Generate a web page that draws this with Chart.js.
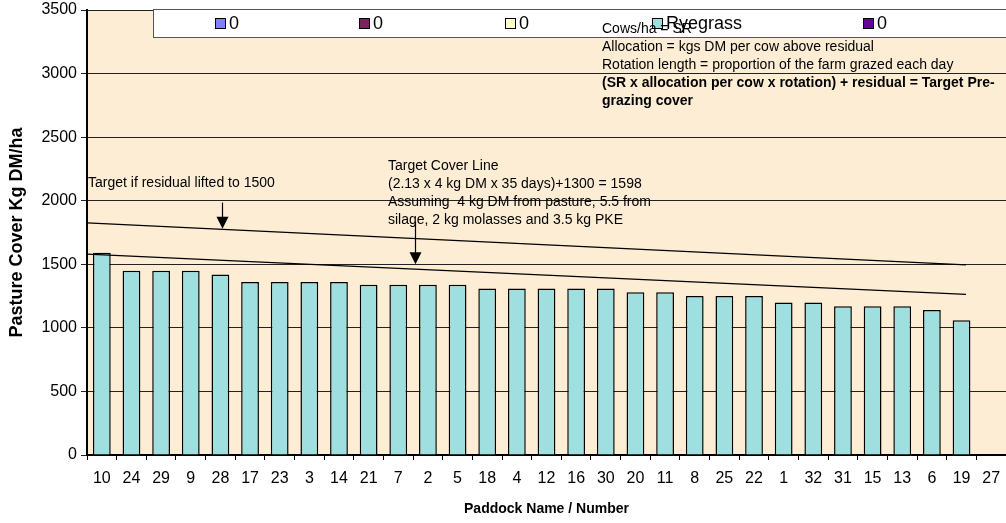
<!DOCTYPE html>
<html><head><meta charset="utf-8">
<script src="https://cdn.jsdelivr.net/npm/chart.js@4.4.0/dist/chart.umd.min.js"></script>
<style>html,body{margin:0;padding:0;background:#fff}#wrap{width:1006px;height:523px}</style>
</head><body><div id="wrap"><canvas id="c" width="1006" height="523"></canvas></div>
<script>
// ---- data ----
const paddocks = ['10','24','29','9','28','17','23','3','14','21','7','2','5','18','4','12','16','30','20','11','8','25','22','1','32','31','15','13','6','19','27'];
const ryegrass = [1590,1450,1450,1450,1420,1360,1360,1360,1360,1340,1340,1340,1340,1310,1310,1310,1310,1310,1280,1280,1250,1250,1250,1200,1200,1170,1170,1170,1140,1060,null];
const legendLabels = ['0','0','0','Ryegrass','0'];
const seriesColors = ['#8080ff','#802060','#ffffcc','#a0dfdf','#660099'];
const lineX = [-0.5, 29.15];
const targetCoverLine = [1580, 1263];
const residualTargetLine = [1826, 1496];
const yTicks = [0,500,1000,1500,2000,2500,3000,3500];
const arrowX = [4.05, 10.56];
const arrowFrom = [1985, 1835];
const arrowTo = [1780, 1500];

const FONT = '"Liberation Sans", Arial, sans-serif';

const barSets = legendLabels.map((lab, i) => ({
  type: 'bar',
  label: lab,
  data: lab === 'Ryegrass' ? ryegrass : [],
  backgroundColor: seriesColors[i],
  borderColor: '#000',
  borderWidth: 1.5,
  grouped: false,
  barPercentage: 0.6,
  categoryPercentage: 1,
  xAxisID: 'x', yAxisID: 'y',
  order: 2
}));

const lineSets = [targetCoverLine, residualTargetLine].map(arr => ({
  type: 'line',
  label: '',
  data: lineX.map((x, i) => ({x: x, y: arr[i]})),
  borderColor: '#000',
  borderWidth: 1.2,
  pointRadius: 0,
  fill: false,
  tension: 0,
  xAxisID: 'x2', yAxisID: 'y',
  order: 0
}));

const bgPlugin = {
  id: 'bg',
  beforeDraw(chart) {
    const {ctx, chartArea: a} = chart;
    ctx.save();
    ctx.fillStyle = '#fff';
    ctx.fillRect(0, 0, chart.width, chart.height);
    ctx.fillStyle = '#fcedd4';
    ctx.fillRect(a.left, a.top, a.right - a.left, a.bottom - a.top);
    ctx.restore();
  }
};

const annoPlugin = {
  id: 'anno',
  afterDraw(chart) {
    const {ctx} = chart;
    const xs = chart.scales.x2, ys = chart.scales.y;
    ctx.save();
    // arrows
    ctx.strokeStyle = '#000'; ctx.fillStyle = '#000'; ctx.lineWidth = 1.2;
    arrowX.forEach((v, i) => {
      const px = Math.round(xs.getPixelForValue(v)) + 0.5;
      const y1 = ys.getPixelForValue(arrowFrom[i]);
      const y2 = ys.getPixelForValue(arrowTo[i]);
      ctx.beginPath(); ctx.moveTo(px, y1); ctx.lineTo(px, y2 - 10); ctx.stroke();
      ctx.beginPath(); ctx.moveTo(px - 6, y2 - 12); ctx.lineTo(px + 6, y2 - 12); ctx.lineTo(px, y2); ctx.closePath(); ctx.fill();
    });
    // texts
    ctx.textAlign = 'left'; ctx.textBaseline = 'middle'; ctx.fillStyle = '#000';
    ctx.font = '14px ' + FONT;
    ctx.fillText('Target if residual lifted to 1500', 88, 183);
    const tc = ['Target Cover Line', '(2.13 x 4 kg DM x 35 days)+1300 = 1598', 'Assuming  4 kg DM from pasture, 5.5 from', 'silage, 2 kg molasses and 3.5 kg PKE'];
    tc.forEach((t, i) => ctx.fillText(t, 388, 166 + i * 18.1));
    // legend box
    ctx.fillStyle = '#fff';
    ctx.fillRect(153, 9, 860, 28);
    ctx.strokeStyle = '#555'; ctx.lineWidth = 1;
    ctx.strokeRect(153.5, 9.5, 860, 28);
    const lx = [215, 359, 505, 652, 863];
    ctx.font = '18px ' + FONT;
    legendLabels.forEach((lab, i) => {
      ctx.fillStyle = seriesColors[i];
      ctx.fillRect(lx[i], 18, 11, 11);
      ctx.strokeStyle = '#000'; ctx.lineWidth = 1;
      ctx.strokeRect(lx[i] + 0.5, 18.5, 10, 10);
      ctx.fillStyle = '#000';
      ctx.fillText(lab, lx[i] + 14, 24.5);
    });
    // notes
    ctx.font = '14px ' + FONT;
    ctx.fillText('Cows/ha = SR', 602, 29);
    ctx.fillText('Allocation = kgs DM per cow above residual', 602, 46.7);
    ctx.fillText('Rotation length = proportion of the farm grazed each day', 602, 65);
    ctx.font = 'bold 14px ' + FONT;
    ctx.fillText('(SR x allocation per cow x rotation) + residual = Target Pre-', 602, 83.3);
    ctx.fillText('grazing cover', 602, 101.6);
    ctx.restore();
  }
};

new Chart(document.getElementById('c'), {
  data: { labels: paddocks, datasets: [...lineSets, ...barSets] },
  options: {
    responsive: false,
    animation: false,
    devicePixelRatio: 1,
    layout: { padding: { top: 10, right: 0, left: 0, bottom: 0 } },
    plugins: { legend: { display: false }, tooltip: { enabled: false } },
    scales: {
      x: {
        type: 'category', offset: true,
        grid: { offset: true, drawOnChartArea: false, drawTicks: true, tickLength: 5, color: '#000', lineWidth: 1 },
        border: { display: true, color: '#000', width: 2 },
        ticks: { color: '#000', font: { family: FONT, size: 16 }, padding: 9, maxRotation: 0, autoSkip: false },
        title: { display: true, text: 'Paddock Name / Number', color: '#000', font: { family: FONT, size: 14, weight: 'bold' }, padding: { top: 0, bottom: 5 } },
        afterFit(s) { s.height = 68; s.paddingLeft = 0; s.paddingRight = 0; }
      },
      x2: { type: 'linear', min: -0.5, max: 30.5, display: false },
      y: {
        min: 0, max: 3500,
        afterBuildTicks(s) { s.ticks = yTicks.map(v => ({ value: v })); },
        ticks: { color: '#000', font: { family: FONT, size: 16 }, padding: 4, callback: v => String(v) },
        grid: { color: '#222', lineWidth: 1, tickLength: 6 },
        border: { display: true, color: '#000', width: 2 },
        title: { display: true, text: 'Pasture Cover Kg DM/ha', color: '#000', font: { family: FONT, size: 18, weight: 'bold' }, padding: { top: 6, bottom: 0 } },
        afterFit(s) { s.width = 87; s.paddingTop = 0; s.paddingBottom = 0; }
      }
    }
  },
  plugins: [bgPlugin, annoPlugin]
});
</script>
</body></html>
